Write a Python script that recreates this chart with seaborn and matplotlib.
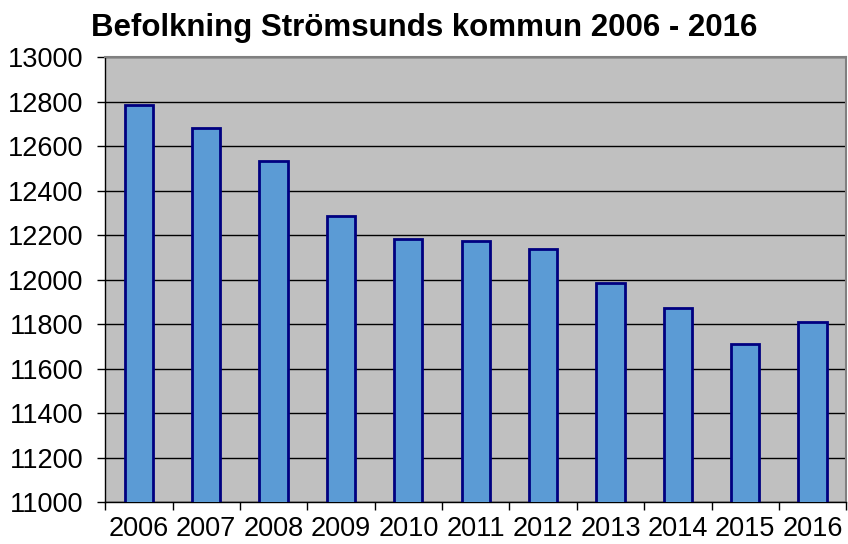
import numpy as np
import pandas as pd
import seaborn as sns
import matplotlib.pyplot as plt

years = ['2006', '2007', '2008', '2009', '2010', '2011',
         '2012', '2013', '2014', '2015', '2016']
population = [12783, 12680, 12531, 12286, 12184, 12173,
              12138, 11986, 11872, 11711, 11809]
yticks = np.arange(11000, 13001, 200)

df = pd.DataFrame({'year': years, 'population': population})

sns.set_style('white')
plt.rcParams['font.family'] = ['Liberation Sans', 'DejaVu Sans']

fig = plt.figure(figsize=(8.48, 5.44), dpi=100)
ax = fig.add_axes([0.124, 0.077, 0.874, 0.818])
ax.set_facecolor('#C0C0C0')

sns.barplot(data=df, x='year', y='population', ax=ax, width=0.42,
            color='#5B9BD5', saturation=1, edgecolor='#000080',
            linewidth=2, zorder=3)

ax.set_ylim(11000, 13000)
ax.set_xlim(-0.5, len(years) - 0.5)
ax.set_yticks(yticks)
ax.set_yticklabels([str(v) for v in yticks], fontsize=19.5, color='black')
ax.set_xticks(range(len(years)))
ax.set_xticklabels(years, fontsize=19.5, color='black')
ax.set_xticks(np.arange(-0.5, len(years), 1.0), minor=True)
ax.tick_params(axis='x', which='major', length=0, pad=10)
ax.tick_params(axis='x', which='minor', length=5.5, width=1, direction='out',
               color='black', bottom=True)
ax.tick_params(axis='y', length=5.5, width=1, direction='out', left=True,
               color='black', pad=10)
ax.yaxis.grid(True, color='black', linewidth=1, zorder=1)
ax.set_axisbelow(True)
ax.set_xlabel('')
ax.set_ylabel('')

for side in ['left', 'bottom']:
    ax.spines[side].set_color('black')
    ax.spines[side].set_linewidth(1)
for side in ['top', 'right']:
    ax.spines[side].set_color('#808080')
    ax.spines[side].set_linewidth(1.5)

fig.text(0.5, 0.948, 'Befolkning Strömsunds kommun 2006 - 2016',
         ha='center', va='center', fontsize=22.5, fontweight='bold',
         color='black')

fig.savefig('out.png', dpi=100)
